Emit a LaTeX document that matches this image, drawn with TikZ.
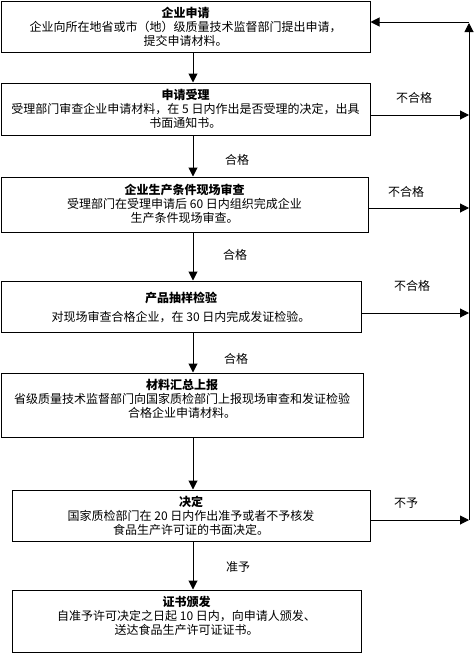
\documentclass[tikz,border=0pt]{standalone}
\usepackage{fontspec}
\setmainfont{Noto Sans CJK SC}
\usetikzlibrary{arrows.meta}
\begin{document}
\begin{tikzpicture}[x=1pt,y=-1pt,
  box/.style={draw,line width=1pt,rectangle,inner sep=0pt},
  txt/.style={align=center,font=\fontsize{12}{14}\selectfont,inner sep=0pt},
  lbl/.style={font=\fontsize{12}{14}\selectfont,inner sep=0pt},
  arr/.style={line width=1pt,-{Triangle[length=9pt,width=9pt]}},
  ln/.style={line width=1pt}]
\useasboundingbox (0,0) rectangle (474,653);
% boxes
\node[box,minimum width=369pt,minimum height=51pt] (b1) at (185.5,26.5) {};
\node[box,minimum width=369pt,minimum height=52pt] (b2) at (185.5,109) {};
\node[box,minimum width=367pt,minimum height=55pt] (b3) at (184.5,204.5) {};
\node[box,minimum width=360pt,minimum height=51pt] (b4) at (181,306.5) {};
\node[box,minimum width=362pt,minimum height=64pt] (b5) at (182,405) {};
\node[box,minimum width=358pt,minimum height=51pt] (b6) at (191,515.5) {};
\node[box,minimum width=349pt,minimum height=62pt] (b7) at (186.5,621) {};
% texts
\node[txt] (t1) at (185.5,27) {\textbf{企业申请}\\企业向所在地省或市（地）级质量技术监督部门提出申请，\\提交申请材料。};
\node[txt] (t2) at (185.5,108.5) {\textbf{申请受理}\\受理部门审查企业申请材料，在 5 日内作出是否受理的决定，出具\\书面通知书。};
\node[txt] (t3) at (184.5,203.5) {\textbf{企业生产条件现场审查}\\受理部门在受理申请后 60 日内组织完成企业\\生产条件现场审查。};
\node[txt] (t4) at (181,307.5) {\textbf{产品抽样检验}\\[5pt]对现场审查合格企业，在 30 日内完成发证检验。};
\node[txt] (t5) at (182,399) {\textbf{材料汇总上报}\\省级质量技术监督部门向国家质检部门上报现场审查和发证检验\\合格企业申请材料。};
\node[txt] (t6) at (191,516) {\textbf{决定}\\国家质检部门在 20 日内作出准予或者不予核发\\食品生产许可证的书面决定。};
\node[txt] (t7) at (186.5,616) {\textbf{证书颁发}\\自准予许可决定之日起 10 日内，向申请人颁发、\\送达食品生产许可证证书。};
% vertical flow
\draw[arr] (b1.south -| 193,0) -- (b2.north -| 193,0);
\draw[arr] (b2.south -| 193,0) -- (b3.north -| 193,0);
\draw[arr] (b3.south -| 193,0) -- (b4.north -| 193,0);
\draw[arr] (b4.south -| 193,0) -- (b5.north -| 193,0);
\draw[arr] (b5.south -| 193,0) -- (b6.north -| 193,0);
\draw[arr] (b6.south -| 193,0) -- (b7.north -| 193,0);
% labels
\node[lbl] (l2) at (237,160) {合格};
\node[lbl] (l3) at (235,255) {合格};
\node[lbl] (l4) at (236,359) {合格};
\node[lbl] (l6) at (238,567) {准予};
\node[lbl] (n2) at (414,98) {不合格};
\node[lbl] (n3) at (406,192) {不合格};
\node[lbl] (n4) at (412,286) {不合格};
\node[lbl] (n6) at (406,503) {不予};
% feedback
\coordinate (r2) at (469,115);
\coordinate (r3) at (469,208);
\coordinate (r4) at (469,313);
\coordinate (r6) at (469,520);
\coordinate (top) at (469,22);
\coordinate (topup) at (469,23);
\draw[arr] (b2.east |- r2) -- (r2);
\draw[arr] (b3.east |- r3) -- (r3);
\draw[arr] (b4.east |- r4) -- (r4);
\draw[arr] (b6.east |- r6) -- (r6);
\draw[arr] (r6) -- (topup);
\draw[arr] (top) -- (b1.east |- top);
\end{tikzpicture}
\end{document}
